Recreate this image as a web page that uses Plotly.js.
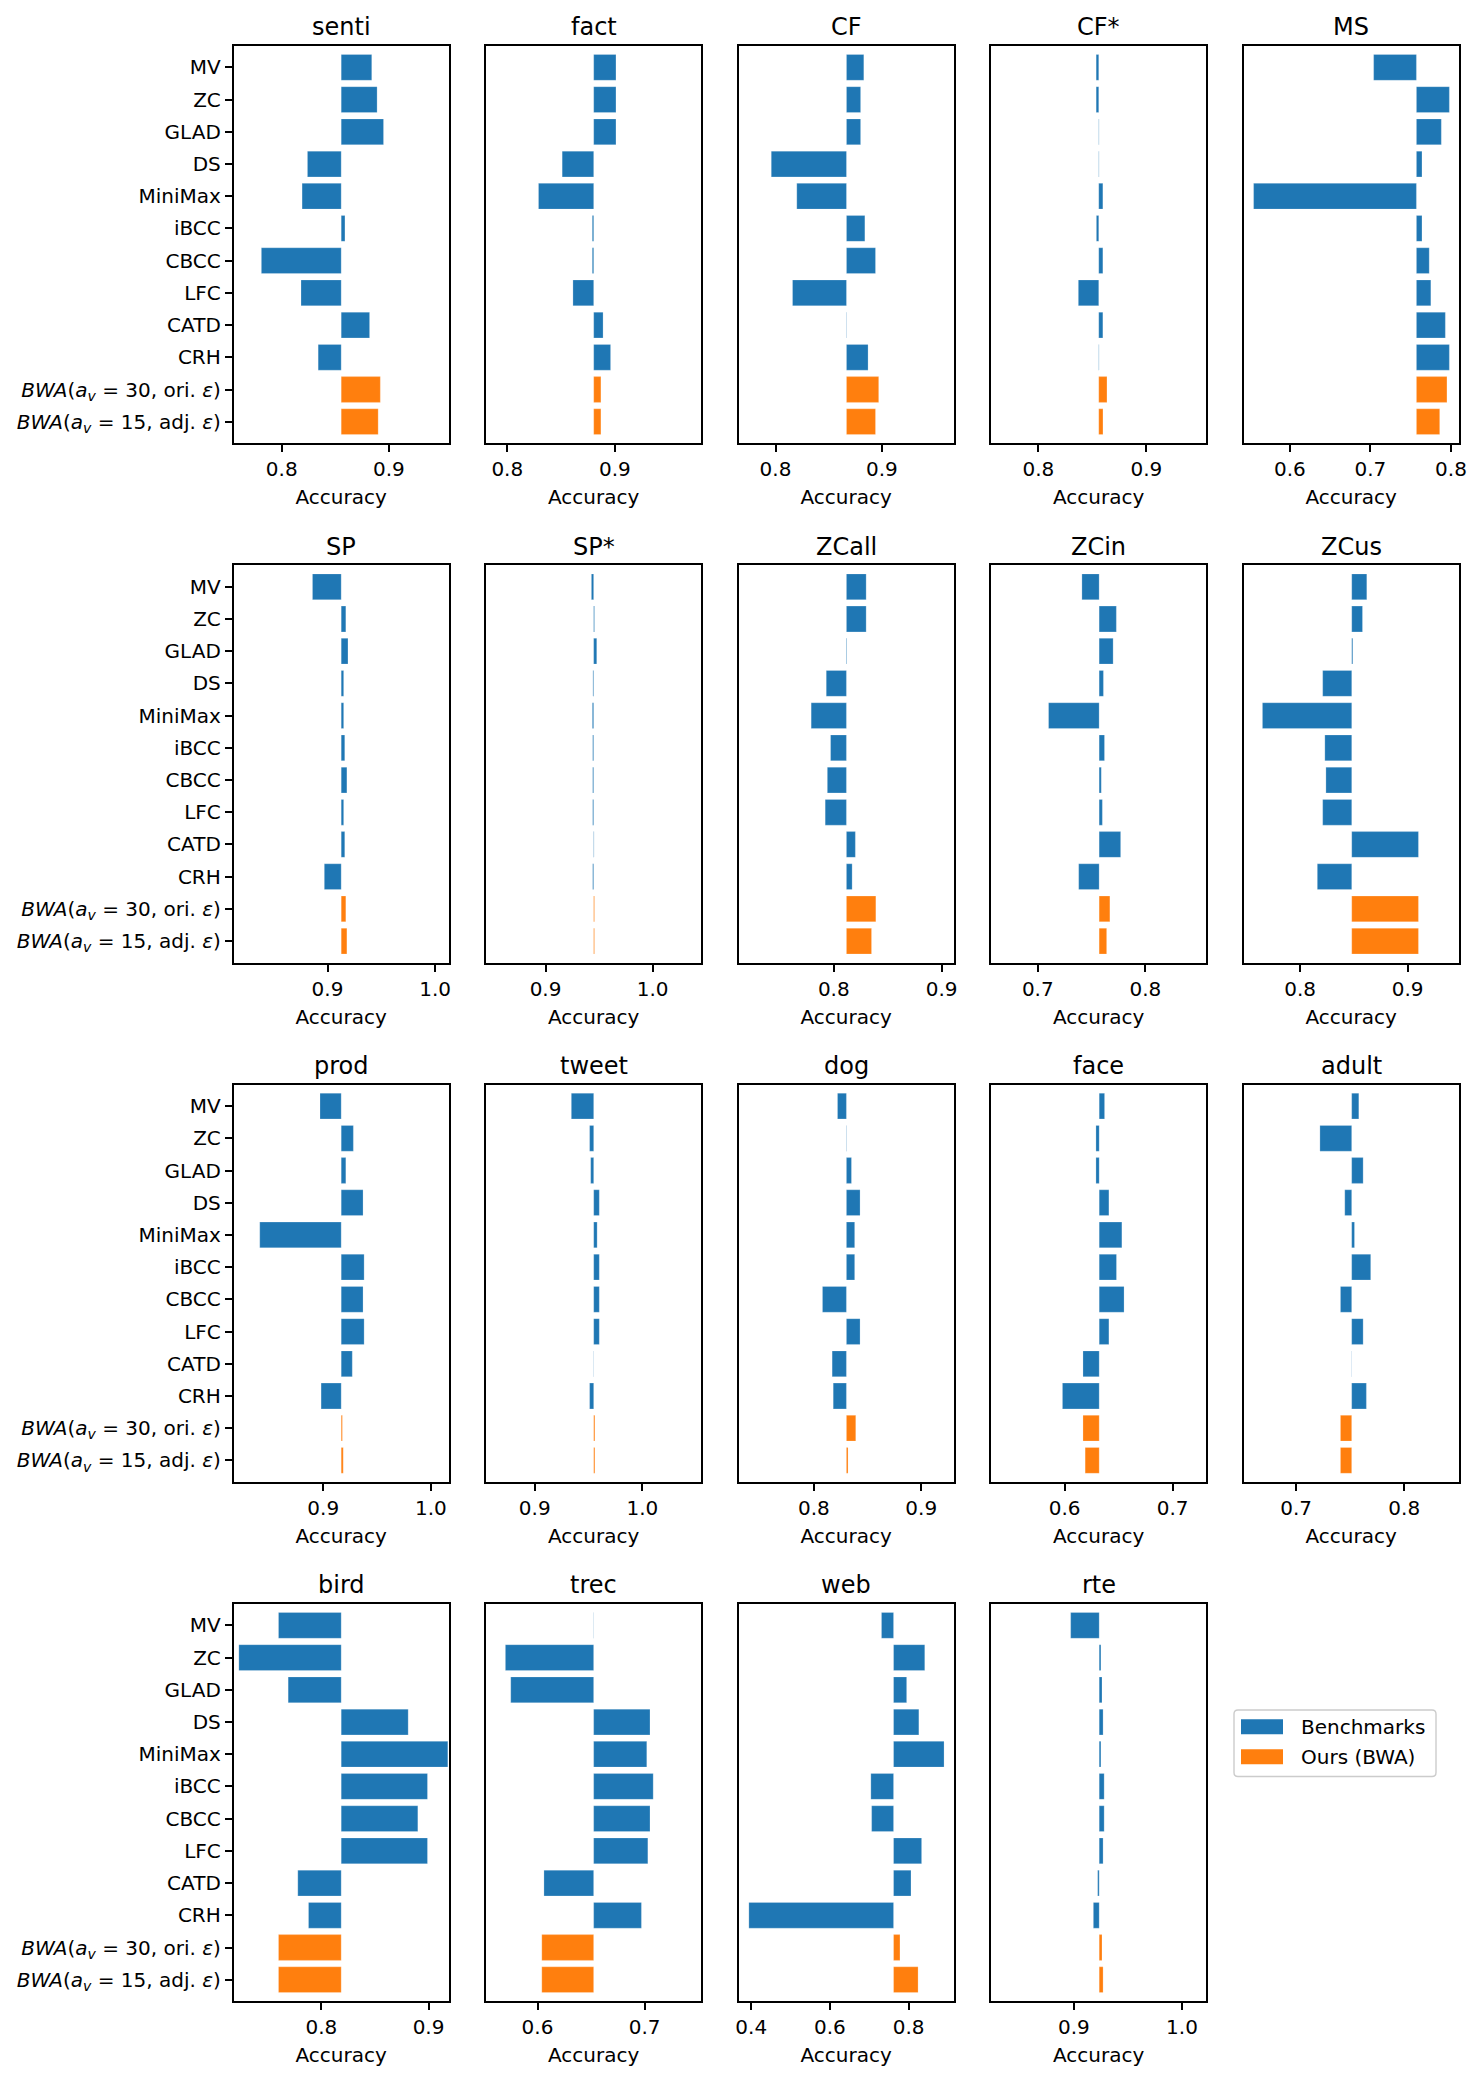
<!DOCTYPE html>
<html>
<head>
<meta charset="utf-8">
<script src="https://cdn.plot.ly/plotly-3.0.1.min.js"></script>
<style>html,body{margin:0;padding:0;background:#fff;}</style>
</head>
<body>
<div id="chart" style="width:1483px;height:2082px;"></div>
<script>
// ---- data -------------------------------------------------------------
const methods = ['MV', 'ZC', 'GLAD', 'DS', 'MiniMax', 'iBCC', 'CBCC', 'LFC', 'CATD', 'CRH',
  '<i>BWA</i>(<i>a</i><sub><i>v</i></sub> = 30, ori. <i>ε</i>)',
  '<i>BWA</i>(<i>a</i><sub><i>v</i></sub> = 15, adj. <i>ε</i>)'];
const nBenchmarks = 10;

const datasets = ['senti', 'fact', 'CF', 'CF*', 'MS', 'SP', 'SP*', 'ZCall', 'ZCin', 'ZCus',
  'prod', 'tweet', 'dog', 'face', 'adult', 'bird', 'trec', 'web', 'rte'];

// reference accuracy each bar starts from
const referenceAcc = [0.8555, 0.8803, 0.8667, 0.8559, 0.7571, 0.9127, 0.9449, 0.8117, 0.7570, 0.8480,
  0.9167, 0.9548, 0.8303, 0.6320, 0.7514, 0.8185, 0.6524, 0.7617, 0.9234];

// accuracy per method (order of `methods`)
const accSenti = [0.884, 0.889, 0.895, 0.824, 0.819, 0.859, 0.781, 0.818, 0.882, 0.834, 0.892, 0.890];
const accFact  = [0.901, 0.901, 0.901, 0.851, 0.829, 0.879, 0.879, 0.861, 0.889, 0.896, 0.887, 0.887];
const accCF    = [0.883, 0.880, 0.880, 0.796, 0.820, 0.884, 0.894, 0.816, 0.867, 0.887, 0.897, 0.894];
const accCFs   = [0.8535, 0.8535, 0.8562, 0.8562, 0.8597, 0.8537, 0.8597, 0.8370, 0.8597, 0.8562, 0.8635, 0.8598];
const accMS    = [0.704, 0.798, 0.788, 0.764, 0.555, 0.764, 0.773, 0.775, 0.793, 0.798, 0.795, 0.786];
const accSP    = [0.886, 0.917, 0.919, 0.915, 0.915, 0.916, 0.918, 0.915, 0.916, 0.897, 0.917, 0.918];
const accSPs   = [0.9428, 0.9457, 0.9478, 0.9442, 0.9437, 0.9440, 0.9440, 0.9440, 0.9453, 0.9440, 0.9457, 0.9457];
const accZCall = [0.830, 0.830, 0.8122, 0.793, 0.779, 0.797, 0.794, 0.792, 0.820, 0.817, 0.839, 0.835];
const accZCin  = [0.741, 0.773, 0.770, 0.761, 0.710, 0.762, 0.759, 0.760, 0.777, 0.738, 0.767, 0.764];
const accZCus  = [0.862, 0.858, 0.849, 0.821, 0.765, 0.823, 0.824, 0.821, 0.910, 0.816, 0.910, 0.910];
const accProd  = [0.897, 0.928, 0.921, 0.937, 0.841, 0.938, 0.937, 0.938, 0.927, 0.898, 0.9178, 0.9186];
const accTweet = [0.934, 0.951, 0.952, 0.960, 0.958, 0.960, 0.960, 0.960, 0.9550, 0.951, 0.9559, 0.9559];
const accDog   = [0.822, 0.8306, 0.835, 0.843, 0.838, 0.838, 0.808, 0.843, 0.817, 0.818, 0.839, 0.8318];
const accFace  = [0.637, 0.629, 0.629, 0.641, 0.653, 0.648, 0.655, 0.641, 0.617, 0.598, 0.617, 0.619];
const accAdult = [0.758, 0.722, 0.762, 0.745, 0.754, 0.769, 0.741, 0.762, 0.7512, 0.765, 0.741, 0.741];
const accBird  = [0.760, 0.723, 0.769, 0.881, 0.918, 0.899, 0.890, 0.899, 0.778, 0.788, 0.760, 0.760];
const accTrec  = [0.6526, 0.570, 0.575, 0.705, 0.702, 0.708, 0.705, 0.703, 0.606, 0.697, 0.604, 0.604];
const accWeb   = [0.731, 0.841, 0.795, 0.826, 0.890, 0.704, 0.706, 0.833, 0.806, 0.394, 0.778, 0.824];
const accRte   = [0.897, 0.925, 0.926, 0.927, 0.925, 0.928, 0.928, 0.927, 0.922, 0.918, 0.926, 0.927];

const accuracies = [accSenti, accFact, accCF, accCFs, accMS, accSP, accSPs, accZCall, accZCin, accZCus,
  accProd, accTweet, accDog, accFace, accAdult, accBird, accTrec, accWeb, accRte];

// ---- axis settings ----------------------------------------------------
const xRanges = [
  [0.7551, 0.9559], [0.7803, 0.9803], [0.7653, 0.9676], [0.7563, 0.9554], [0.5426, 0.8097],
  [0.8127, 1.0127], [0.8445, 1.0454], [0.7117, 0.9113], [0.6566, 0.8566], [0.7475, 0.9475],
  [0.8167, 1.0167], [0.8548, 1.0548], [0.7299, 0.9303], [0.5320, 0.7311], [0.6514, 0.8505],
  [0.7181, 0.9189], [0.5520, 0.7529], [0.3679, 0.9148], [0.8234, 1.0225]];
const xSteps = datasets.map(d => d === 'web' ? 0.2 : 0.1);

// ---- figure geometry (pixels) ----------------------------------------
const W = 1483, H = 2082;
const colLeft = [233.6, 486.1, 738.6, 991.1, 1243.6];
const rowTop = [45.8, 565.2, 1084.5, 1603.8];
const panelW = 215.2, panelH = 397.5;
const X = px => px / W;
const Y = py => 1 - py / H;

const BLUE = '#1f77b4', ORANGE = '#ff7f0e';
const FONT = 'DejaVu Sans, Verdana, sans-serif';
const EDGE = {color: 'rgba(255,255,255,0.45)', width: 0.5};

const traces = [];
const layout = {
  width: W, height: H,
  margin: {l: 0, r: 0, t: 0, b: 0},
  paper_bgcolor: '#fff', plot_bgcolor: '#fff',
  barmode: 'overlay',
  showlegend: false,
  font: {family: FONT, size: 20, color: '#000'},
  annotations: [], shapes: []
};

datasets.forEach((name, k) => {
  const row = Math.floor(k / 5), col = k % 5;
  const n = k + 1;
  const xa = 'x' + (n === 1 ? '' : n), ya = 'y' + (n === 1 ? '' : n);
  const ref = referenceAcc[k];
  const acc = accuracies[k];
  const left = colLeft[col], top = rowTop[row];

  const common = {
    type: 'bar', orientation: 'h', base: ref, width: 0.8,
    xaxis: xa, yaxis: ya, showlegend: false,
    hovertemplate: '%{y}: %{customdata:.3f}<extra></extra>'
  };
  traces.push(Object.assign({}, common, {
    name: 'Benchmarks',
    y: methods.slice(0, nBenchmarks),
    x: acc.slice(0, nBenchmarks).map(v => v - ref),
    customdata: acc.slice(0, nBenchmarks),
    marker: {color: BLUE, line: EDGE}
  }));
  traces.push(Object.assign({}, common, {
    name: 'Ours (BWA)',
    y: methods.slice(nBenchmarks),
    x: acc.slice(nBenchmarks).map(v => v - ref),
    customdata: acc.slice(nBenchmarks),
    marker: {color: ORANGE, line: EDGE}
  }));

  layout['xaxis' + (n === 1 ? '' : n)] = {
    anchor: ya,
    domain: [X(left), X(left + panelW)],
    range: xRanges[k],
    tickmode: 'linear', tick0: 0, dtick: xSteps[k], tickformat: '.1f',
    ticks: 'outside', ticklen: 7, tickwidth: 1.6, tickcolor: '#000',
    showline: true, mirror: true, linecolor: '#000', linewidth: 1.6,
    showgrid: false, zeroline: false,
    tickfont: {family: FONT, size: 20, color: '#000'},
    title: {text: 'Accuracy', font: {family: FONT, size: 20, color: '#000'}, standoff: 10}
  };
  layout['yaxis' + (n === 1 ? '' : n)] = {
    anchor: xa,
    domain: [Y(top + panelH), Y(top)],
    type: 'category', categoryorder: 'array', categoryarray: methods,
    range: [11.67, -0.67],
    showline: true, mirror: true, linecolor: '#000', linewidth: 1.6,
    showgrid: false, zeroline: false,
    showticklabels: col === 0,
    ticks: col === 0 ? 'outside' : '',
    ticklen: 7, tickwidth: 1.6, tickcolor: '#000',
    tickfont: {family: FONT, size: 20, color: '#000'}
  };

  layout.annotations.push({
    xref: 'paper', yref: 'paper',
    x: X(left + panelW / 2), y: Y(top - 18.5),
    xanchor: 'center', yanchor: 'middle',
    text: name, showarrow: false,
    font: {family: FONT, size: 24, color: '#000'}
  });
});

// legend box drawn beside the last panel
function roundRectPath(x0, y0, x1, y1, r) {
  return `M ${X(x0 + r)},${Y(y0)} L ${X(x1 - r)},${Y(y0)} Q ${X(x1)},${Y(y0)} ${X(x1)},${Y(y0 + r)} ` +
    `L ${X(x1)},${Y(y1 - r)} Q ${X(x1)},${Y(y1)} ${X(x1 - r)},${Y(y1)} ` +
    `L ${X(x0 + r)},${Y(y1)} Q ${X(x0)},${Y(y1)} ${X(x0)},${Y(y1 - r)} ` +
    `L ${X(x0)},${Y(y0 + r)} Q ${X(x0)},${Y(y0)} ${X(x0 + r)},${Y(y0)} Z`;
}
layout.shapes.push({
  type: 'path', xref: 'paper', yref: 'paper',
  path: roundRectPath(1234, 1710, 1436, 1776.5, 4),
  line: {color: '#cccccc', width: 1.4}, fillcolor: 'rgba(255,255,255,0.8)'
});
const legendItems = [
  {label: 'Benchmarks', color: BLUE, cy: 1726.8},
  {label: 'Ours (BWA)', color: ORANGE, cy: 1756.8}
];
legendItems.forEach(it => {
  layout.shapes.push({
    type: 'rect', xref: 'paper', yref: 'paper',
    x0: X(1241), x1: X(1283), y0: Y(it.cy - 7.5), y1: Y(it.cy + 7.5),
    fillcolor: it.color, line: {width: 0}
  });
  layout.annotations.push({
    xref: 'paper', yref: 'paper', x: X(1299), y: Y(it.cy),
    xanchor: 'left', yanchor: 'middle', text: it.label, showarrow: false,
    font: {family: FONT, size: 20, color: '#000'}
  });
});

Plotly.newPlot('chart', traces, layout, {displayModeBar: false, responsive: false});
</script>
</body>
</html>
